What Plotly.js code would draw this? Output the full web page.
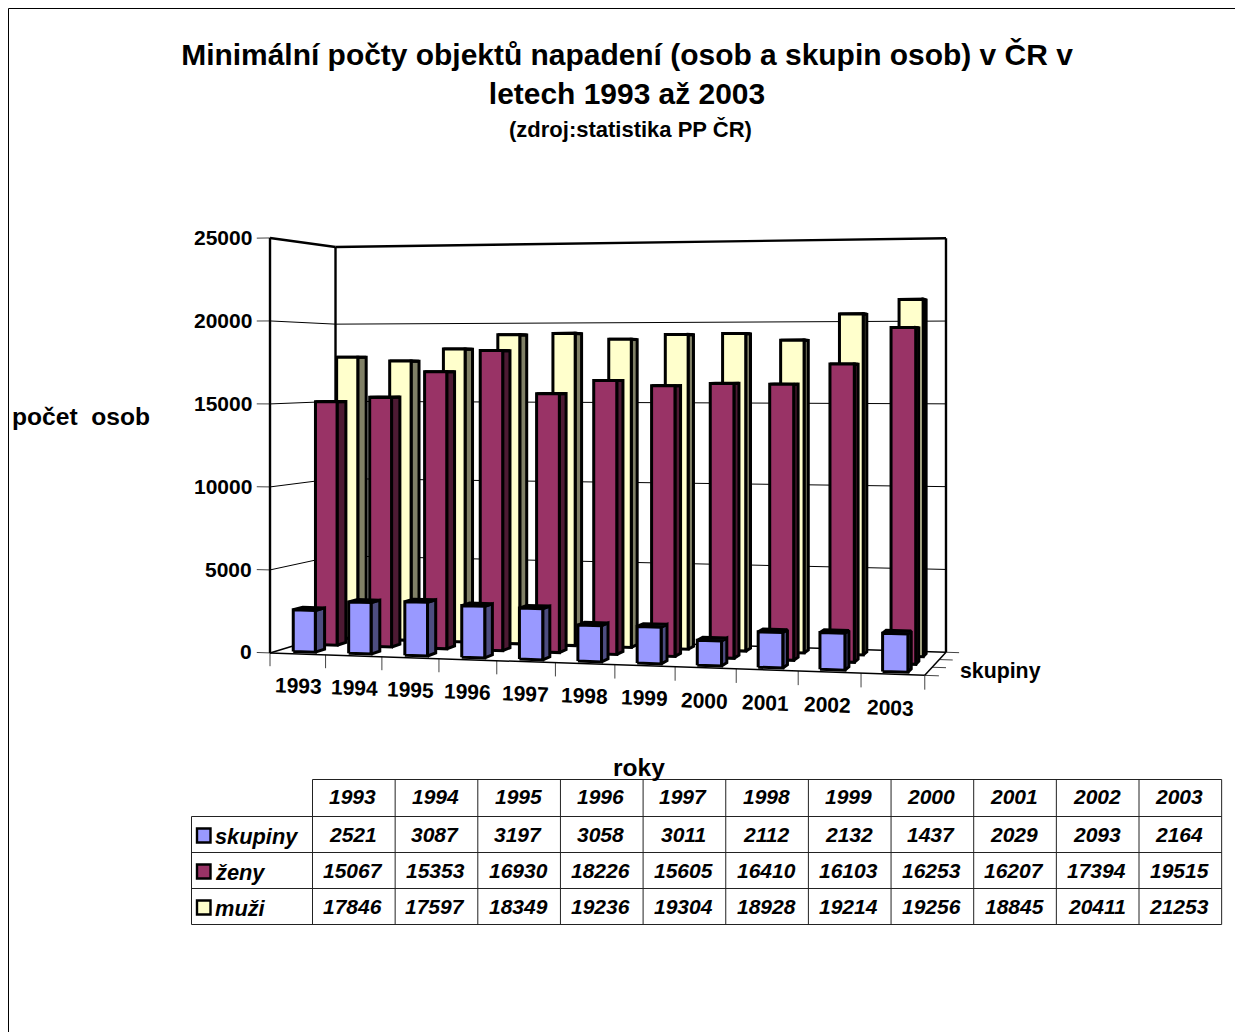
<!DOCTYPE html>
<html><head><meta charset="utf-8">
<script src="https://cdn.plot.ly/plotly-3.0.1.min.js"></script>
<style>html,body{margin:0;padding:0;width:1235px;height:1032px;overflow:hidden;background:#fff}#chart{width:1235px;height:1032px}</style>
</head><body><div id="chart"></div>
<script>
const years=['1993','1994','1995','1996','1997','1998','1999','2000','2001','2002','2003'];
const skupiny=[2521,3087,3197,3058,3011,2112,2132,1437,2029,2093,2164];
const zeny=[15067,15353,16930,18226,15605,16410,16103,16253,16207,17394,19515];
const muzi=[17846,17597,18349,19236,19304,18928,19214,19256,18845,20411,21253];
const zTicks=[0,5000,10000,15000,20000,25000];
const seriesNames=['skupiny','ženy','muži'];
const seriesValues=[skupiny,zeny,muzi];
const frontColors=['#9999FF','#993366','#FFFFCC'];
const sideColors=['#4D4D80','#4D1A33','#808066'];
const topColors=['#6A6AB0','#6E2549','#B3B38F'];
const font='"Liberation Sans", Arial, sans-serif';
const N=years.length,D=seriesNames.length,zMax=25000;

// perspective view of the chart box: (category, series depth, value) -> axis coordinates
const view={f:2293.6,cx:600,cy:367,eyeH:0.689,bl:[-0.6852,5.942],xv:[1.5209,-0.402],dv:[-0.110,-0.415]};
function P(c,s,v){
  const u=c/N,w=1-s/D,h=v/zMax;
  const X=view.bl[0]+u*view.xv[0]+w*view.dv[0],Z=view.bl[1]+u*view.xv[1]+w*view.dv[1];
  return [view.cx+view.f*X/Z,view.cy+view.f*(view.eyeH-h)/Z];
}
const traces=[];
function polys(list,fill,width){
  const x=[],y=[];
  list.forEach(pts=>{pts.forEach(p=>{x.push(p[0]);y.push(p[1]);});x.push(pts[0][0],null);y.push(pts[0][1],null);});
  traces.push({type:'scatter',mode:'lines',x,y,fill:'toself',fillcolor:fill,line:{color:'#000',width,simplify:false},hoverinfo:'skip',showlegend:false});
}
function lines(segs,width,color){
  const x=[],y=[];
  segs.forEach(s=>{const a=P(s[0],s[1],s[2]),b=P(s[3],s[4],s[5]);x.push(a[0],b[0],null);y.push(a[1],b[1],null);});
  traces.push({type:'scatter',mode:'lines',x,y,line:{color:color||'#000',width,simplify:false},hoverinfo:'skip',showlegend:false});
}
// walls, grid, floor, ticks
const grid=[];
zTicks.slice(1,-1).forEach(z=>grid.push([0,0,z,0,D,z],[0,D,z,N,D,z]));
lines(grid,1);
const ticks=[];
zTicks.forEach(z=>ticks.push([-0.24,0,z,0,0,z]));
for(let c=0;c<=N;c++)ticks.push([c,0,0,c,0,-800]);
for(let s=0;s<=D;s++)ticks.push([N,s,0,N+0.22,s,0]);
lines(ticks,1,'#444');
lines([[0,0,0,N,0,0],[0,0,0,0,D,0],[0,D,0,N,D,0],[N,0,0,N,D,0]],1.5);
lines([[0,0,0,0,0,zMax],[0,D,0,0,D,zMax],[N,D,0,N,D,zMax],[0,0,zMax,0,D,zMax],[0,D,zMax,N,D,zMax]],2.4);
// bars, back series first
const BAR=0.2,DEPTH=0.21,EDGE=3;
for(let s=D-1;s>=0;s--){
  const side=[],top=[],front=[];
  seriesValues[s].forEach((v,c)=>{
    const x0=c+0.5-BAR,x1=c+0.5+BAR,y0=s+0.5-DEPTH,y1=s+0.5+DEPTH;
    side.push([P(x1,y0,0),P(x1,y1,0),P(x1,y1,v),P(x1,y0,v)]);
    top.push([P(x0,y0,v),P(x1,y0,v),P(x1,y1,v),P(x0,y1,v)]);
    front.push([P(x0,y0,0),P(x1,y0,0),P(x1,y0,v),P(x0,y0,v)]);
  });
  polys(side,sideColors[s],EDGE);polys(top,topColors[s],EDGE);polys(front,frontColors[s],EDGE);
}
// text
const ann=[];
const T=(x,y,text,size,anchor,angle)=>ann.push({x,y,text,showarrow:false,xref:'x',yref:'y',xanchor:anchor||'center',yanchor:'middle',textangle:angle||0,font:{family:font,size:size,color:'#000'}});
years.forEach((y,c)=>{const p=P(c+0.5,0,-1870);T(p[0]+1-c*0.3,p[1]-c*0.05,'<b>'+y+'</b>',21,'center',2);});
zTicks.forEach(z=>{const p=P(-0.29,0,z);T(p[0],p[1]-0.5,'<b>'+z+'</b>',21,'right');});
T(630.5,129.5,'<b>(zdroj:statistika PP ČR)</b>',22);
T(10,416.5,'<b>počet  osob</b>',24.6,'left');
T(638.5,767.5,'<b>roky</b>',24.5);
T(958,671,'<b>skupiny</b>',21.3,'left');
// data table
const colX0=312.5,colW=82.65,rowY=[779.5,816.5,852.5,888.5,924.5],tableL=191.5,tableR=colX0+N*colW;
const L=(x0,y0,x1,y1)=>({type:'line',x0,y0,x1,y1,line:{color:'#222',width:1}});
const shapes=[
  {type:'line',x0:8.5,x1:8.5,y0:8.5,y1:1032,line:{color:'#000',width:1}},
  {type:'line',x0:8.5,x1:1235,y0:8.5,y1:8.5,line:{color:'#000',width:1}},
  L(colX0,rowY[0],tableR,rowY[0]),L(tableL,rowY[1],tableL,rowY[4])
];
for(let r=1;r<rowY.length;r++)shapes.push(L(tableL,rowY[r],tableR,rowY[r]));
for(let c=0;c<=N;c++)shapes.push(L(colX0+c*colW,rowY[0],colX0+c*colW,rowY[4]));
years.forEach((y,c)=>T(colX0+(c+0.5)*colW-1,796.5,'<b><i>'+y+'</i></b>',21));
seriesNames.forEach((n,s)=>{
  const yc=(rowY[s+1]+rowY[s+2])/2;
  shapes.push({type:'rect',x0:197,x1:210.5,y0:yc+1-7,y1:yc+1+7,fillcolor:frontColors[s],line:{color:'#000',width:2.4}});
  T(213,yc+2,'<b><i>'+n+'</i></b>',21.8,'left');
  seriesValues[s].forEach((v,c)=>T(colX0+(c+0.5)*colW-1,yc-0.5,'<b><i>'+v+'</i></b>',21));
});
Plotly.newPlot('chart',traces,{
  width:1235,height:1032,margin:{l:0,r:0,t:0,b:0},paper_bgcolor:'#fff',plot_bgcolor:'#fff',showlegend:false,
  title:{text:'<b>Minimální počty objektů napadení (osob a skupin osob) v ČR v<br>letech 1993 až 2003</b>',font:{family:font,size:29.95,color:'#000'},x:627/1235,xanchor:'center',xref:'paper',y:0.9366,yanchor:'top',yref:'paper'},
  xaxis:{visible:false,range:[0,1235],fixedrange:true},
  yaxis:{visible:false,range:[1032,0],fixedrange:true},
  shapes,annotations:ann
},{staticPlot:true,displayModeBar:false});
</script></body></html>
